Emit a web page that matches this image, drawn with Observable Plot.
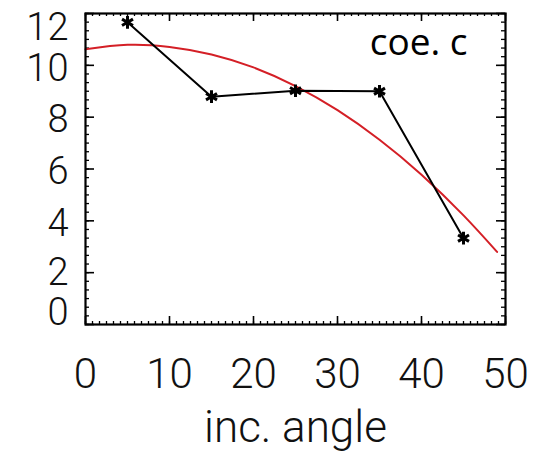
<!DOCTYPE html>
<html>
<head>
<meta charset="utf-8">
<script src="https://cdn.jsdelivr.net/npm/d3@7"></script>
<script src="https://cdn.jsdelivr.net/npm/@observablehq/plot@0.6"></script>
<style>
  html, body { margin: 0; padding: 0; background: #fff; }
  #chart svg { display: block; }
</style>
</head>
<body>
<div id="chart"></div>
<script>
// Measured series (black line with asterisk markers)
const angles = [5, 15, 25, 35, 45];
const coeC = [11.66, 8.79, 9.02, 9.0, 3.33];

// Red fitted curve
const fitAngles = [0, 5, 10, 15, 20, 25, 30, 35, 40, 45, 49];
const fitValues = [10.62, 10.79, 10.71, 10.42, 9.92, 9.2, 8.27, 7.13, 5.78, 4.21, 2.8];

// Axis ticks
const xTicks = [0, 10, 20, 30, 40, 50];
const yTicks = [0, 2, 4, 6, 8, 10, 12];
const xMinor = d3.range(0, 50.001, 10 / 12);
const yMinor = d3.range(0, 12.001, 2 / 6);

const panelLabel = "coe. c";
const xLabel = "inc. angle";

const W = 534, H = 455;
const mL = 85, mR = 29, mT = 13, mB = 131;
const FW = W - mL - mR, FH = H - mT - mB;

const points = angles.map((a, i) => ({x: a, y: coeC[i]}));
const fit = fitAngles.map((a, i) => ({x: a, y: fitValues[i]}));

const labelFont = "Roboto, 'Liberation Sans', Helvetica, Arial, sans-serif";
const upperY = yTicks.filter(d => d > 2 && d < 12);
const yLabelStyle = {
  frameAnchor: "left", dx: -17, textAnchor: "end", lineAnchor: "middle",
  text: d => String(d), fontSize: 38, fontWeight: 300, fontFamily: labelFont, fill: "#111"
};

const chart = Plot.plot({
  width: W,
  height: H,
  marginLeft: mL,
  marginRight: mR,
  marginTop: mT,
  marginBottom: mB,
  x: {domain: [0, 50], axis: null},
  y: {domain: [0, 12], axis: null},
  style: {background: "#fff", color: "#000"},
  marks: [
    // minor ticks (inward, all four sides)
    Plot.tickX(xMinor, {x: d => d, insetTop: FH - 3, stroke: "#000", strokeWidth: 1.3}),
    Plot.tickX(xMinor, {x: d => d, insetBottom: FH - 3, stroke: "#000", strokeWidth: 1.3}),
    Plot.tickY(yMinor, {y: d => d, insetRight: FW - 4, stroke: "#000", strokeWidth: 1.3}),
    Plot.tickY(yMinor, {y: d => d, insetLeft: FW - 4, stroke: "#000", strokeWidth: 1.3}),
    // major ticks
    Plot.tickX(xTicks, {x: d => d, insetTop: FH - 8, stroke: "#000", strokeWidth: 1.6}),
    Plot.tickX(xTicks, {x: d => d, insetBottom: FH - 8, stroke: "#000", strokeWidth: 1.6}),
    Plot.tickY(yTicks, {y: d => d, insetRight: FW - 9, stroke: "#000", strokeWidth: 1.6}),
    Plot.tickY(yTicks, {y: d => d, insetLeft: FW - 9, stroke: "#000", strokeWidth: 1.6}),
    // red fitted curve
    Plot.line(fit, {x: "x", y: "y", curve: "natural", stroke: "#d41f26", strokeWidth: 2}),
    // black measured line + markers
    Plot.line(points, {x: "x", y: "y", stroke: "#000", strokeWidth: 2}),
    Plot.dot(points, {x: "x", y: "y", symbol: "asterisk", r: 6, stroke: "#000", strokeWidth: 3}),
    Plot.frame({stroke: "#000", strokeWidth: 2.2}),
    // panel label
    Plot.text([panelLabel], {
      frameAnchor: "top-right", dx: -38, dy: 30, textAnchor: "end", lineAnchor: "middle",
      fontSize: 37, fontFamily: "'Open Sans', sans-serif", fill: "#000"
    }),
    // x tick labels
    Plot.text(xTicks, {
      x: d => d, frameAnchor: "bottom", dy: 50, lineAnchor: "middle",
      text: d => String(d), fontSize: 42, fontWeight: 300, fontFamily: labelFont, fill: "#111"
    }),
    // y tick labels (IDL-style: end labels pulled inward)
    Plot.text(upperY, {...yLabelStyle, y: d => d, dy: 3}),
    Plot.text([2], {...yLabelStyle, y: d => d, dy: 0}),
    Plot.text([0], {...yLabelStyle, y: d => d, dy: -12}),
    Plot.text([12], {...yLabelStyle, y: d => d, dy: 14}),
    // x axis label
    Plot.text([xLabel], {
      frameAnchor: "bottom", dy: 103, lineAnchor: "middle",
      fontSize: 44, fontWeight: 300, fontFamily: labelFont, fill: "#111"
    })
  ]
});

document.getElementById("chart").append(chart);
</script>
</body>
</html>
